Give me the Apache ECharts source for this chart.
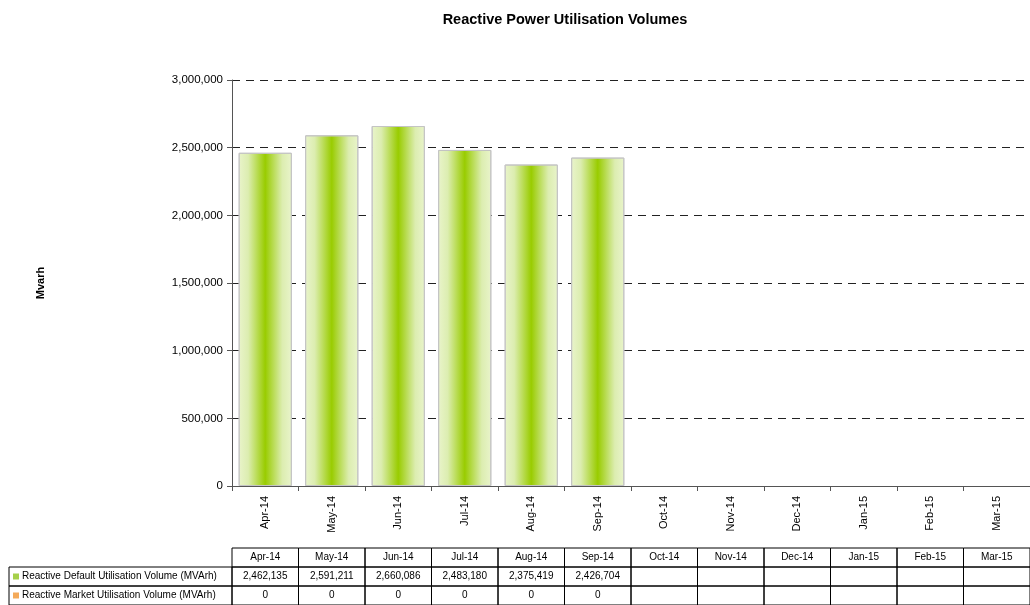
<!DOCTYPE html>
<html>
<head>
<meta charset="utf-8">
<script src="https://cdn.jsdelivr.net/npm/echarts@6/dist/echarts.min.js"></script>
<style>
  html, body { margin: 0; padding: 0; background: #fff; }
  #chart { width: 1030px; height: 605px; }
</style>
</head>
<body>
<div id="chart"></div>
<script>
// months shown on the x axis and in the data table
const months = ['Apr-14', 'May-14', 'Jun-14', 'Jul-14', 'Aug-14', 'Sep-14',
  'Oct-14', 'Nov-14', 'Dec-14', 'Jan-15', 'Feb-15', 'Mar-15'];

const defaultName = 'Reactive Default Utilisation Volume (MVArh)';
const marketName = 'Reactive Market Utilisation Volume (MVArh)';

// only the first six months have figures
const defaultVolume = [2462135, 2591211, 2660086, 2483180, 2375419, 2426704,
  null, null, null, null, null, null];
const marketVolume = [0, 0, 0, 0, 0, 0, null, null, null, null, null, null];

const yTicks = [0, 500000, 1000000, 1500000, 2000000, 2500000, 3000000];

const FONT = '"Liberation Sans", Arial, sans-serif';
const fmt = (v) => (v === null || v === undefined ? '' : v.toLocaleString('en-US'));

const chart = echarts.init(document.getElementById('chart'));

const barFill = new echarts.graphic.LinearGradient(0, 0, 1, 0, [
  { offset: 0, color: '#e9f4cb' },
  { offset: 0.18, color: '#dcedb0' },
  { offset: 0.5, color: '#99cc00' },
  { offset: 0.82, color: '#dcedb0' },
  { offset: 1, color: '#e9f4cb' },
]);

const option = {
  animation: false,
  textStyle: { fontFamily: FONT },
  title: {
    text: 'Reactive Power Utilisation Volumes',
    left: 560,
    textAlign: 'center',
    top: 7,
    textStyle: { fontSize: 14.5, fontWeight: 'bold', color: '#000', fontFamily: FONT },
  },
  grid: { left: 232, right: 0, top: 80, bottom: 119, containLabel: false },
  xAxis: {
    type: 'category',
    data: months,
    boundaryGap: true,
    axisLine: { lineStyle: { color: '#555', width: 1 } },
    axisTick: { show: true, length: 5, alignWithLabel: false, lineStyle: { color: '#555' } },
    axisLabel: { rotate: 90, interval: 0, fontSize: 11, color: '#000', margin: 10, fontFamily: FONT },
    splitLine: { show: false },
  },
  yAxis: {
    type: 'value',
    min: yTicks[0],
    max: yTicks[yTicks.length - 1],
    interval: yTicks[1] - yTicks[0],
    name: 'Mvarh',
    nameLocation: 'middle',
    nameRotate: 90,
    nameGap: 186,
    nameTextStyle: { fontSize: 11, fontWeight: 'bold', color: '#000', fontFamily: FONT },
    axisLine: { show: true, lineStyle: { color: '#555', width: 1 } },
    axisTick: { show: true, length: 5, lineStyle: { color: '#555' } },
    axisLabel: { fontSize: 11.5, color: '#000', margin: 9, formatter: (v) => fmt(v), fontFamily: FONT },
    splitLine: { show: true, lineStyle: { color: '#222', type: [8, 6], width: 1 } },
  },
  series: [
    {
      name: defaultName,
      type: 'bar',
      data: defaultVolume,
      barCategoryGap: '20%',
      itemStyle: { color: barFill, borderColor: '#c4c4c4', borderWidth: 1 },
    },
  ],
};

chart.setOption(option);

// data table under the chart, columns follow the category axis
function buildTable() {
  const c0 = chart.convertToPixel({ xAxisIndex: 0 }, months[0]);
  const c1 = chart.convertToPixel({ xAxisIndex: 0 }, months[1]);
  const colW = c1 - c0;
  const tableLeft = c0 - colW / 2;
  const labelLeft = 9;
  const rowH = 19;
  const top = 548;
  const els = [];
  const line = { stroke: '#000', lineWidth: 1 };
  const txt = (x, y, text, align) => ({
    type: 'text', x: x, y: y,
    style: { text: text, fontSize: 10, fontFamily: FONT, fill: '#000',
      align: align || 'center', verticalAlign: 'middle' },
  });

  const rows = [
    { name: defaultName, values: defaultVolume, key: '#a6d04a' },
    { name: marketName, values: marketVolume, key: '#f4aa5a' },
  ];

  // header cells
  months.forEach((m) => {
    const cx = chart.convertToPixel({ xAxisIndex: 0 }, m);
    els.push({ type: 'rect', shape: { x: cx - colW / 2, y: top, width: colW, height: rowH },
      style: { fill: 'none', ...line } });
    els.push(txt(cx, top + rowH / 2, m));
  });

  rows.forEach((r, ri) => {
    const y = top + rowH * (ri + 1);
    els.push({ type: 'rect', shape: { x: labelLeft, y: y, width: tableLeft - labelLeft, height: rowH },
      style: { fill: 'none', ...line } });
    els.push({ type: 'rect', shape: { x: labelLeft + 4, y: y + rowH / 2 - 3, width: 6, height: 6 },
      style: { fill: r.key } });
    els.push(txt(labelLeft + 13, y + rowH / 2, r.name, 'left'));
    months.forEach((m, i) => {
      const cx = chart.convertToPixel({ xAxisIndex: 0 }, m);
      els.push({ type: 'rect', shape: { x: cx - colW / 2, y: y, width: colW, height: rowH },
        style: { fill: 'none', ...line } });
      els.push(txt(cx, y + rowH / 2, fmt(r.values[i])));
    });
  });

  chart.setOption({ graphic: { elements: els } });
}

buildTable();
</script>
</body>
</html>
